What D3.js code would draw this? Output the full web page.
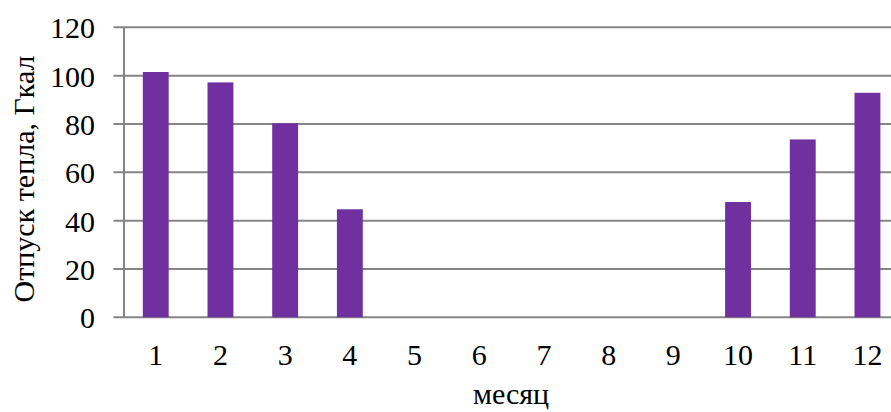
<!DOCTYPE html>
<html><head><meta charset="utf-8">
<script src="https://cdn.jsdelivr.net/npm/d3@7"></script>
<style>html,body{margin:0;padding:0;background:#fff;}svg{display:block;}
text{font-family:"Liberation Serif","Times New Roman","DejaVu Serif",serif;}</style>
</head><body>
<svg id="c" width="891" height="412"></svg>
<script>
const months = ["1","2","3","4","5","6","7","8","9","10","11","12"];
const values = [101.5, 97.2, 80.3, 44.7, 0, 0, 0, 0, 0, 47.7, 73.6, 92.9];
const yTicks = [0, 20, 40, 60, 80, 100, 120];
const yTitle = "Отпуск тепла, Гкал";
const xTitle = "месяц";

(function () {
const svg = d3.select("#c");
const pLeft = 123.4, pRight = 899.8, pTop = 27.3, pBottom = 317.3;
const fs = "30px";

const x = d3.scaleBand().domain(months).range([pLeft, pRight]).paddingInner(0.6).paddingOuter(0.3);
const y = d3.scaleLinear().domain([0, 120]).range([pBottom, pTop]);

svg.append("g").selectAll("line").data(yTicks).join("line")
  .attr("x1", pLeft - 10).attr("x2", pRight)
  .attr("y1", d => y(d)).attr("y2", d => y(d))
  .attr("stroke", "#858585").attr("stroke-width", 2);

svg.append("line").attr("x1", pLeft + 0.6).attr("x2", pLeft + 0.6)
  .attr("y1", pTop).attr("y2", pBottom)
  .attr("stroke", "#858585").attr("stroke-width", 2);

svg.append("g").selectAll("rect").data(values).join("rect")
  .attr("x", (d, i) => x(months[i]))
  .attr("width", x.bandwidth())
  .attr("y", d => y(d))
  .attr("height", d => y(0) - y(d))
  .attr("fill", "#7030a0");

svg.append("g").selectAll("text").data(yTicks).join("text")
  .attr("x", 95).attr("y", d => y(d) + 11)
  .attr("text-anchor", "end")
  .attr("font-size", fs).attr("fill", "#000")
  .text(d => d);

svg.append("g").selectAll("text").data(months).join("text")
  .attr("x", d => x(d) + x.bandwidth() / 2).attr("y", 365)
  .attr("text-anchor", "middle")
  .attr("font-size", fs).attr("fill", "#000")
  .text(d => d);

svg.append("text").attr("x", 511).attr("y", 404).attr("text-anchor", "middle")
  .attr("font-size", fs).attr("fill", "#000").text(xTitle);
svg.append("text").attr("transform", "translate(34,179) rotate(-90)").attr("text-anchor", "middle")
  .attr("font-size", fs).attr("fill", "#000").text(yTitle);
})();
</script>
</body></html>
